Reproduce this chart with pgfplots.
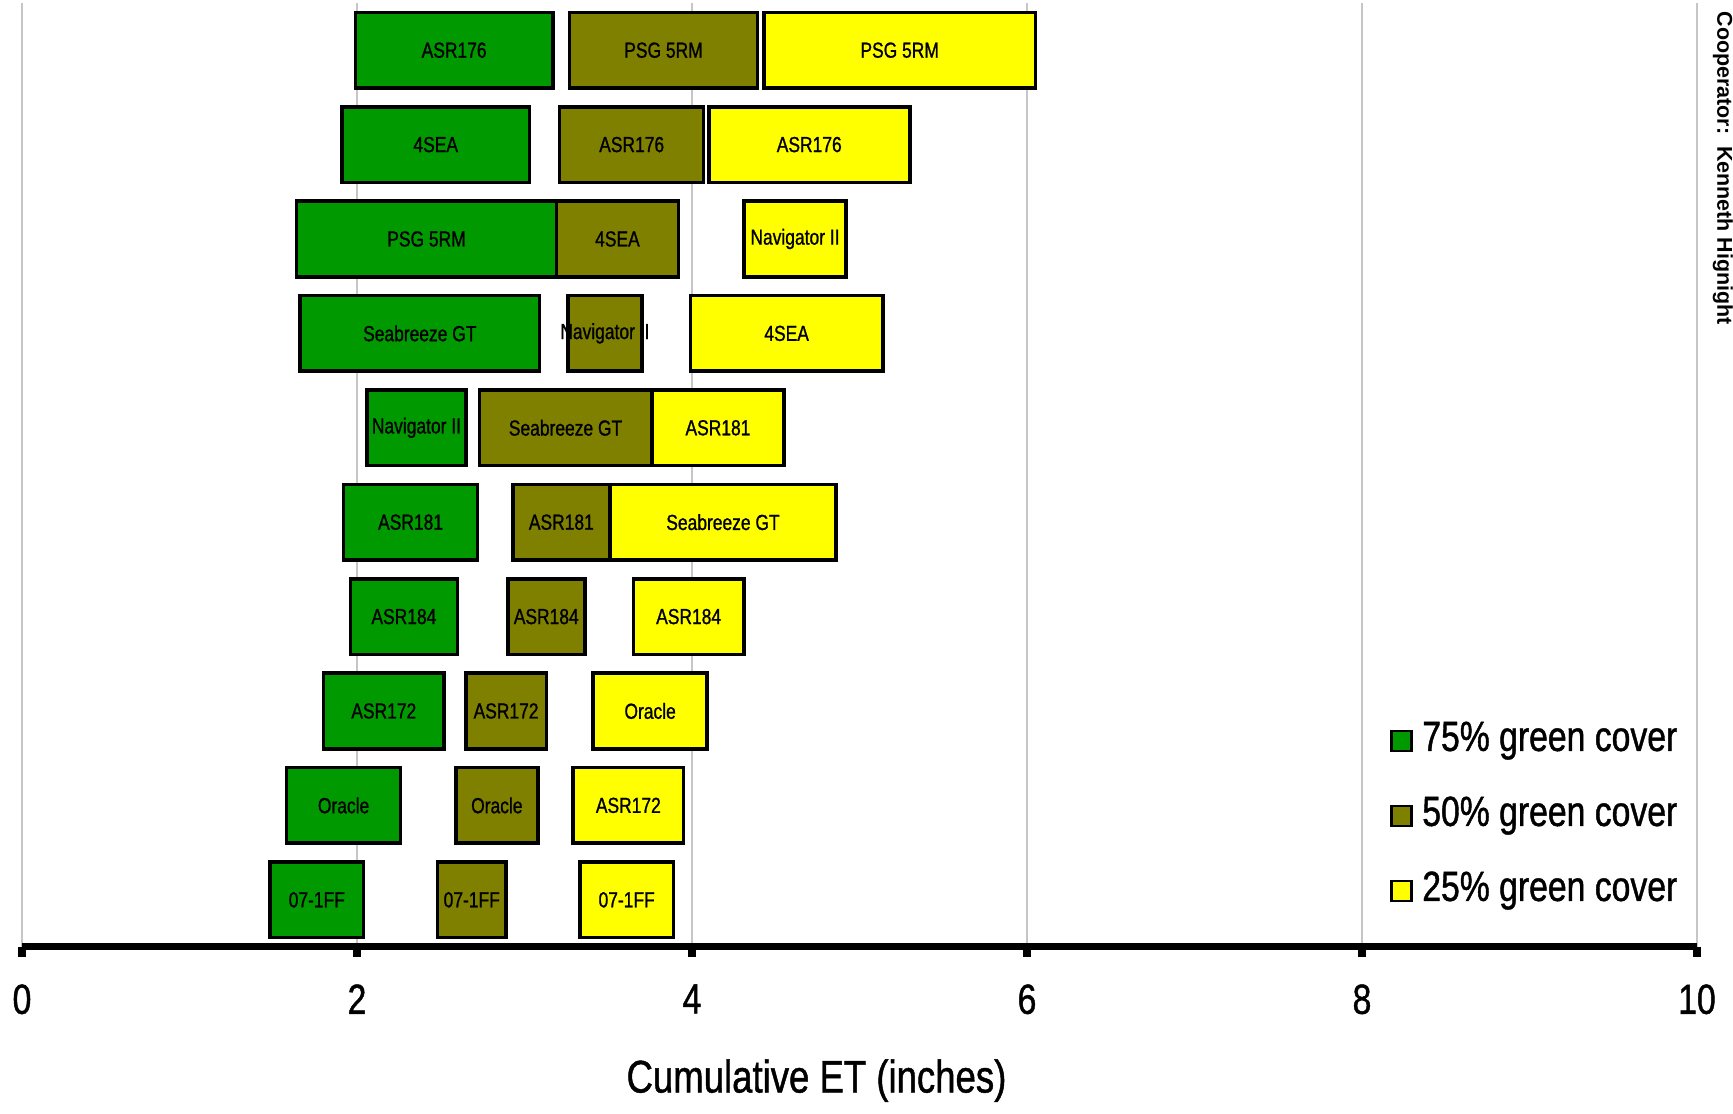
\documentclass[border=0pt]{standalone}
\usepackage{pgfplots}
\pgfplotsset{compat=1.18}
\usepackage{pgfplotstable}
\usepackage{fontspec}
\setmainfont{Liberation Sans}[FakeStretch=0.8, FakeBold=1]
\newfontfamily\coopfont{Liberation Sans}

\definecolor{cgreen}{RGB}{0,153,0}
\definecolor{colive}{RGB}{128,128,0}
\definecolor{cyellow}{RGB}{255,255,0}

% start / end of each box (inches), three cover levels per row, row 10 = top
\pgfplotstableread[col sep=comma]{
y,s1,e1,l1,s2,e2,l2,s3,e3,l3
10,1.99,3.17,ASR176,3.27,4.39,PSG 5RM,4.43,6.05,PSG 5RM
9,1.91,3.03,4SEA,3.21,4.07,ASR176,4.10,5.30,ASR176
8,1.64,3.19,PSG 5RM,3.19,3.92,4SEA,4.31,4.92,Navigator II
7,1.66,3.09,Seabreeze GT,3.26,3.70,Navigator II,3.99,5.14,4SEA
6,2.06,2.65,Navigator II,2.73,3.76,Seabreeze GT,3.76,4.55,ASR181
5,1.92,2.72,ASR181,2.93,3.51,ASR181,3.51,4.86,Seabreeze GT
4,1.96,2.60,ASR184,2.90,3.36,ASR184,3.65,4.31,ASR184
3,1.80,2.52,ASR172,2.65,3.13,ASR172,3.41,4.09,Oracle
2,1.58,2.26,Oracle,2.59,3.08,Oracle,3.29,3.95,ASR172
1,1.48,2.04,07-1FF,2.48,2.89,07-1FF,3.33,3.89,07-1FF
}\cover

\pgfplotsset{
  cov/.style={width=16.75cm, height=9.44cm, scale only axis,
    xmin=0, xmax=10, ymin=0.5, ymax=10.5},
  gap/.style={draw=none, fill=none, forget plot},
  box legend/.style={legend image code/.code={
    \draw[##1, draw=black, line width=0.8pt] (0cm,-0.1cm) rectangle (0.2cm,0.1cm);}},
  lbl/.style={only marks, mark=*, mark size=0pt, draw=none, fill=none,
    mark options={draw=none, fill=none},
    nodes near coords, point meta=explicit symbolic,
    every node near coord/.append style={anchor=center, inner sep=0pt, black,
      font=\fontsize{6.2}{7}\selectfont}},
}

\begin{document}
\begin{tikzpicture}
\begin{axis}[cov, name=main,
  xbar stacked, bar width=0.8,
  axis x line=bottom, axis y line=none,
  axis line style={-, line width=2pt, black},
  xtick={0,2,...,10}, ytick=\empty,
  tick align=outside, major tick length=0.1cm,
  every tick/.style={black, line width=2pt},
  xmajorgrids, major grid style={gray!45, line width=0.4pt},
  /pgf/number format/assume math mode=true,
  xticklabel style={font=\fontsize{12}{14}\selectfont, yshift=-0.15cm},
  xlabel={Cumulative ET (inches)},
  xlabel style={font=\fontsize{13}{15}\selectfont, yshift=-0.21cm, xshift=-0.43cm},
  legend style={at={(0.995,0.03)}, anchor=south east, draw=none, fill=none,
    font=\fontsize{12}{14}\selectfont, row sep=0.35cm, column sep=0.09cm,
    nodes={inner sep=0pt, text height=0.3cm, text depth=0.1cm}},
  legend cell align=left,
]
\addplot[gap] table[x=s1, y=y]{\cover};
\addplot[fill=cgreen, draw=black, line width=1pt, box legend]
  table[x expr=\thisrow{e1}-\thisrow{s1}, y=y]{\cover};
\addlegendentry{75\% green cover}
\addplot[gap] table[x expr=\thisrow{s2}-\thisrow{e1}, y=y]{\cover};
\addplot[fill=colive, draw=black, line width=1pt, box legend]
  table[x expr=\thisrow{e2}-\thisrow{s2}, y=y]{\cover};
\addlegendentry{50\% green cover}
\addplot[gap] table[x expr=\thisrow{s3}-\thisrow{e2}, y=y]{\cover};
\addplot[fill=cyellow, draw=black, line width=1pt, box legend]
  table[x expr=\thisrow{e3}-\thisrow{s3}, y=y]{\cover};
\addlegendentry{25\% green cover}
\end{axis}

\begin{axis}[cov, hide axis, at={(main.south west)}, anchor=south west]
\addplot[lbl] table[x expr=(\thisrow{s1}+\thisrow{e1})/2, y=y, meta=l1]{\cover};
\addplot[lbl] table[x expr=(\thisrow{s2}+\thisrow{e2})/2, y=y, meta=l2]{\cover};
\addplot[lbl] table[x expr=(\thisrow{s3}+\thisrow{e3})/2, y=y, meta=l3]{\cover};
\end{axis}

\node[rotate=-90, anchor=west, inner sep=0pt,
  font=\coopfont\bfseries\fontsize{6.1}{7}\selectfont]
  at ([xshift=0.26cm, yshift=-0.08cm]main.north east) {Cooperator:\ \ Kenneth Hignight};
\path ([xshift=-0.22cm]main.south west) ([xshift=0.36cm, yshift=0.03cm]main.north east);
\end{tikzpicture}
\end{document}
